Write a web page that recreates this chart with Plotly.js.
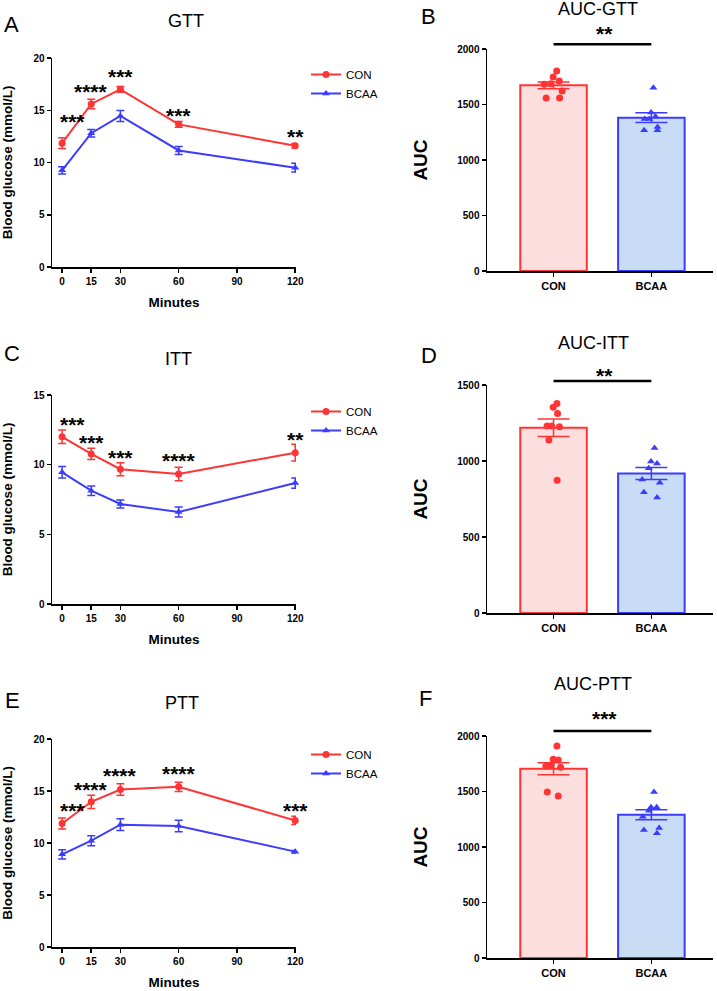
<!DOCTYPE html>
<html>
<head>
<meta charset="utf-8">
<script src="https://cdn.plot.ly/plotly-3.0.1.min.js"></script>
<style>html,body{margin:0;padding:0;background:#fff;}#chart{width:717px;height:991px;}</style>
</head>
<body>
<div id="chart"></div>
<script>
// ---------- DATA ----------
const minutes = [0, 15, 30, 60, 120];
const groups = ['CON', 'BCAA'];

const gttCon = [11.85, 15.6, 17.0, 13.65, 11.6];
const gttConSem = [0.52, 0.45, 0.27, 0.27, 0.22];
const gttBcaa = [9.25, 12.8, 14.45, 11.15, 9.5];
const gttBcaaSem = [0.34, 0.35, 0.53, 0.38, 0.42];
const gttStars = ['***', '****', '***', '***', '**'];

const ittCon = [12.0, 10.77, 9.67, 9.33, 10.86];
const ittConSem = [0.48, 0.4, 0.46, 0.49, 0.6];
const ittBcaa = [9.45, 8.13, 7.18, 6.6, 8.68];
const ittBcaaSem = [0.41, 0.34, 0.29, 0.36, 0.37];
const ittStars = ['***', '***', '***', '****', '**'];

const pttCon = [11.88, 13.96, 15.14, 15.4, 12.17];
const pttConSem = [0.53, 0.64, 0.56, 0.45, 0.4];
const pttBcaa = [8.91, 10.22, 11.76, 11.63, 9.17];
const pttBcaaSem = [0.45, 0.48, 0.56, 0.56, 0.12];
const pttStars = ['***', '****', '****', '****', '***'];

const gttAucCon = [1802, 1748, 1712, 1688, 1682, 1622, 1559, 1559];
const gttAucBcaa = [1652, 1429, 1393, 1369, 1369, 1297, 1267, 1267];
const gttAucMean = [1673, 1381];
const gttAucSem = [30, 44];
const gttAucSig = '**';

const ittAucCon = [1379, 1353, 1313, 1230, 1230, 1226, 1138, 874];
const ittAucBcaa = [1085, 997, 984, 953, 879, 857, 795, 760];
const ittAucMean = [1219, 918];
const ittAucSem = [57, 40];
const ittAucSig = '**';

const pttAucCon = [1910, 1790, 1784, 1739, 1730, 1718, 1495, 1459];
const pttAucBcaa = [1495, 1357, 1357, 1327, 1273, 1171, 1153, 1123];
const pttAucMean = [1706, 1291];
const pttAucSem = [54, 45];
const pttAucSig = '***';

// ---------- STYLE / LAYOUT CONFIG ----------
const W = 717, H = 991;
const RED = '#ff3434', BLUE = '#3c3cff';
const RED_FILL = '#fddede', BLUE_FILL = '#c8dcf5';
const FONT = 'Arial, "Liberation Sans", sans-serif';
const px = p => p / W;
const py = p => 1 - p / H;

const panels = [
  // line panels
  {kind: 'line', ax: '', title: 'GTT', letter: 'A', con: gttCon, conSem: gttConSem, bcaa: gttBcaa, bcaaSem: gttBcaaSem,
   stars: gttStars, starY: [14.3, 17.2, 18.6, 14.9, 12.9], yTop: 58, yBot: 267, ymax: 20, dtick: 5,
   titlePos: [186, 21], letterPos: [2, 25], legend: 'legend', legendTop: 60},
  {kind: 'line', ax: '3', title: 'ITT', letter: 'C', con: ittCon, conSem: ittConSem, bcaa: ittBcaa, bcaaSem: ittBcaaSem,
   stars: ittStars, starY: [13.2, 11.9, 10.77, 10.6, 12.06], yTop: 395, yBot: 604, ymax: 15, dtick: 5,
   titlePos: [178, 359], letterPos: [2, 354], legend: 'legend2', legendTop: 397},
  {kind: 'line', ax: '5', title: 'PTT', letter: 'E', con: pttCon, conSem: pttConSem, bcaa: pttBcaa, bcaaSem: pttBcaaSem,
   stars: pttStars, starY: [13.55, 15.56, 16.9, 17.06, 13.55], yTop: 739, yBot: 947, ymax: 20, dtick: 5,
   titlePos: [182, 703], letterPos: [3, 700], legend: 'legend3', legendTop: 740},
  // bar panels (sig positions are fractions of the y-axis domain, >1 = above the axis)
  {kind: 'bar', ax: '2', title: 'AUC-GTT', letter: 'B', con: gttAucCon, bcaa: gttAucBcaa, mean: gttAucMean, sem: gttAucSem,
   sig: gttAucSig, sigLineD: 1.021, sigTextD: 1.09, yTop: 49, yBot: 271, ymax: 2000, dtick: 500,
   titlePos: [598, 9], letterPos: [419, 17]},
  {kind: 'bar', ax: '4', title: 'AUC-ITT', letter: 'D', con: ittAucCon, bcaa: ittAucBcaa, mean: ittAucMean, sem: ittAucSem,
   sig: ittAucSig, sigLineD: 1.018, sigTextD: 1.06, yTop: 385, yBot: 613, ymax: 1500, dtick: 500,
   titlePos: [593, 343], letterPos: [419, 355]},
  {kind: 'bar', ax: '6', title: 'AUC-PTT', letter: 'F', con: pttAucCon, bcaa: pttAucBcaa, mean: pttAucMean, sem: pttAucSem,
   sig: pttAucSig, sigLineD: 1.022, sigTextD: 1.095, yTop: 736, yBot: 958, ymax: 2000, dtick: 500,
   titlePos: [593, 684], letterPos: [417, 698]}
];

const traces = [];
const annotations = [];
const shapes = [];
const layout = {
  width: W, height: H,
  margin: {l: 0, r: 0, t: 0, b: 0},
  paper_bgcolor: '#fff', plot_bgcolor: '#fff',
  font: {family: FONT, color: '#000'},
  barmode: 'overlay', boxmode: 'overlay',
  showlegend: true,
  annotations: annotations,
  shapes: shapes
};

const axisCommon = {
  showgrid: false, zeroline: false, showline: true, linecolor: '#000', linewidth: 1.5,
  ticks: 'outside', ticklen: 4, tickwidth: 1.5, tickcolor: '#000',
  tickfont: {family: FONT, size: 10, color: '#000', weight: 'bold'}
};
const STAR_FONT = {family: FONT, size: 21, color: '#000', weight: 'bold'};

panels.forEach(p => {
  const xa = 'x' + p.ax, ya = 'y' + p.ax;
  const xk = 'xaxis' + p.ax, yk = 'yaxis' + p.ax;
  const yDomain = [py(p.yBot), py(p.yTop)];
  if (p.kind === 'line') {
    layout[xk] = Object.assign({}, axisCommon, {
      domain: [px(52), px(296)], anchor: ya, range: [-5.2, 120.4],
      tickvals: [0, 15, 30, 60, 90, 120],
      title: {text: 'Minutes', font: {family: FONT, size: 13.5, weight: 'bold'}, standoff: 12}
    });
    layout[yk] = Object.assign({}, axisCommon, {
      domain: yDomain, anchor: xa, range: [0, p.ymax], dtick: p.dtick, tick0: 0,
      title: {text: 'Blood glucose (mmol/L)', font: {family: FONT, size: 13.5, weight: 'bold'}, standoff: 20}
    });
    layout[p.legend] = {
      x: px(306), y: py(p.legendTop), xanchor: 'left', yanchor: 'top',
      bgcolor: 'rgba(0,0,0,0)', font: {family: FONT, size: 11.5, color: '#000'},
      itemwidth: 30, tracegroupgap: 0
    };
    traces.push({
      type: 'scatter', mode: 'lines+markers', name: 'CON', x: minutes, y: p.con,
      xaxis: xa, yaxis: ya, legend: p.legend, cliponaxis: false,
      line: {color: RED, width: 2}, marker: {color: RED, size: 7, symbol: 'circle'},
      error_y: {type: 'data', array: p.conSem, visible: true, color: RED, thickness: 1.5, width: 4}
    });
    traces.push({
      type: 'scatter', mode: 'lines+markers', name: 'BCAA', x: minutes, y: p.bcaa,
      xaxis: xa, yaxis: ya, legend: p.legend, cliponaxis: false,
      line: {color: BLUE, width: 2}, marker: {color: BLUE, size: 7, symbol: 'triangle-up'},
      error_y: {type: 'data', array: p.bcaaSem, visible: true, color: BLUE, thickness: 1.5, width: 4}
    });
    p.stars.forEach((s, i) => {
      annotations.push({
        xref: xa, yref: ya, x: minutes[i], y: p.starY[i], text: s, showarrow: false,
        xanchor: 'center', yanchor: 'middle', yshift: -4, xshift: i === 0 ? 10 : 0,
        font: STAR_FONT
      });
    });
  } else {
    layout[xk] = Object.assign({}, axisCommon, {
      domain: [px(487), px(713)], anchor: ya, type: 'category',
      categoryorder: 'array', categoryarray: groups, range: [-0.68, 1.63],
      tickfont: {family: FONT, size: 11, color: '#000', weight: 'bold'}
    });
    layout[yk] = Object.assign({}, axisCommon, {
      domain: yDomain, anchor: xa, range: [0, p.ymax], dtick: p.dtick, tick0: 0,
      title: {text: 'AUC', font: {family: FONT, size: 19, weight: 'bold'}, standoff: 24}
    });
    const cols = [RED, BLUE], fills = [RED_FILL, BLUE_FILL];
    const pts = [p.con, p.bcaa];
    const syms = ['circle', 'triangle-up'];
    groups.forEach((g, gi) => {
      traces.push({
        type: 'bar', x: [g], y: [p.mean[gi]], xaxis: xa, yaxis: ya, width: 0.68,
        showlegend: false, name: g,
        marker: {color: fills[gi], line: {color: cols[gi], width: 2}},
        error_y: {type: 'data', array: [p.sem[gi]], visible: true, color: cols[gi], thickness: 1.5, width: 16}
      });
    });
    groups.forEach((g, gi) => {
      traces.push({
        type: 'box', orientation: 'v', x: pts[gi].map(() => g), y: pts[gi], xaxis: xa, yaxis: ya,
        showlegend: false, name: g, boxpoints: 'all', jitter: 1, pointpos: 0, width: 0.24,
        fillcolor: 'rgba(0,0,0,0)', line: {color: 'rgba(0,0,0,0)', width: 0},
        marker: {color: cols[gi], size: 7, symbol: syms[gi]}
      });
    });
    shapes.push({
      type: 'line', xref: xa, yref: ya + ' domain', x0: 0, x1: 1, y0: p.sigLineD, y1: p.sigLineD,
      line: {color: '#000', width: 2.5}
    });
    annotations.push({
      xref: xa, yref: ya + ' domain', x: 0.52, y: p.sigTextD, text: p.sig, showarrow: false,
      xanchor: 'center', yanchor: 'middle', yshift: -4,
      font: STAR_FONT
    });
  }
  annotations.push({
    xref: 'paper', yref: 'paper', x: px(p.titlePos[0]), y: py(p.titlePos[1]), text: p.title,
    showarrow: false, xanchor: 'center', yanchor: 'middle', font: {family: FONT, size: 18, color: '#000'}
  });
  annotations.push({
    xref: 'paper', yref: 'paper', x: px(p.letterPos[0]), y: py(p.letterPos[1]), text: p.letter,
    showarrow: false, xanchor: 'left', yanchor: 'middle', font: {family: FONT, size: 22, color: '#000'}
  });
});

Plotly.newPlot('chart', traces, layout, {staticPlot: true, displayModeBar: false});
</script>
</body>
</html>
